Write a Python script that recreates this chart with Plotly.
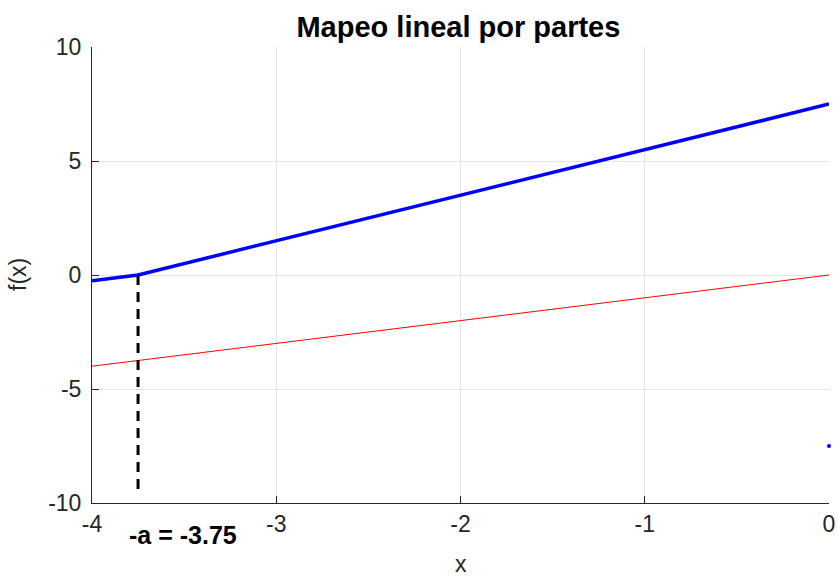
import plotly.graph_objects as go

a = 3.75
x_blue = [-4, -3.75, 0]
y_blue = [-0.25, 0, 7.5]
x_red = [-4, 0]
y_red = [-4, 0]
x_dash = [-3.75, -3.75]
y_dash = [0, -9.4]
x_pt = [0]
y_pt = [-7.5]
xticks = [-4, -3, -2, -1, 0]
yticks = [-10, -5, 0, 5, 10]

FONT = "Liberation Sans, Arial"

fig = go.Figure()
fig.add_trace(go.Scatter(x=x_red, y=y_red, mode="lines", line=dict(color="red", width=1), showlegend=False))
fig.add_trace(go.Scatter(x=x_blue, y=y_blue, mode="lines", line=dict(color="blue", width=3.5), showlegend=False))
fig.add_trace(go.Scatter(x=x_dash, y=y_dash, mode="lines", line=dict(color="black", width=3, dash="10px,7px"), showlegend=False))
fig.add_trace(go.Scatter(x=x_pt, y=y_pt, mode="markers", marker=dict(color="blue", size=4), showlegend=False, cliponaxis=False))

fig.add_annotation(x=-3.505, y=-0.07, xref="x", yref="paper", yanchor="middle", text="<b>-a = -3.75</b>", showarrow=False,
                   font=dict(family=FONT, size=25, color="black"))
fig.add_annotation(x=0.5, y=-0.1635, xref="paper", yref="paper", yanchor="bottom", text="x", showarrow=False,
                   font=dict(family=FONT, size=23, color="#262626"), borderpad=0)
fig.add_annotation(x=-0.1004, y=0.5, xref="paper", yref="paper", xanchor="center", yanchor="middle", text="f(x)",
                   textangle=-90, showarrow=False, font=dict(family=FONT, size=23, color="#262626"))

axis_common = dict(showgrid=True, gridcolor="#e5e5e5", gridwidth=1, zeroline=False, automargin=False,
                   showline=True, linecolor="#262626", linewidth=1, ticks="inside", ticklen=7,
                   tickcolor="#262626", tickfont=dict(family=FONT, size=23, color="#262626"))

fig.update_layout(
    width=838, height=578,
    margin=dict(l=92, r=9, t=47, b=75),
    paper_bgcolor="white", plot_bgcolor="white",
    title=dict(text="<b>Mapeo lineal por partes</b>", x=0.547, xanchor="center", y=0.953, yanchor="middle",
               font=dict(family=FONT, size=29, color="black")),
    xaxis=dict(range=[-4, 0], tickvals=xticks, ticktext=[str(v) for v in xticks], **axis_common),
    yaxis=dict(range=[-10, 10], tickvals=yticks, ticktext=[str(v) for v in yticks],
               ticklabelstandoff=5, **axis_common),
)
fig.write_html("out.html")
